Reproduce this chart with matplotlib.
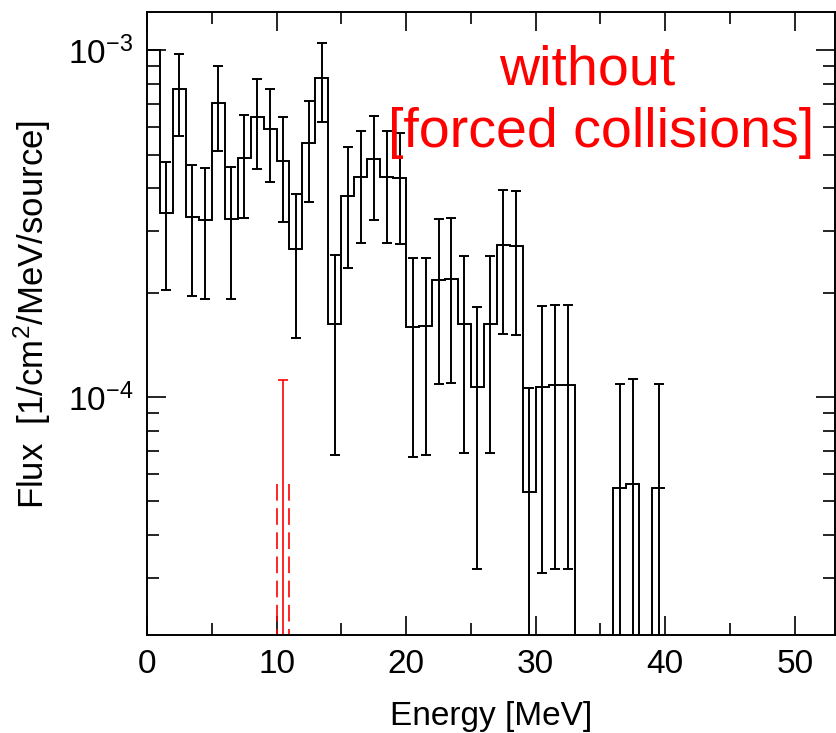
import matplotlib
matplotlib.use("Agg")
import matplotlib.pyplot as plt
import numpy as np

plt.rcParams["font.family"] = ["Liberation Sans", "DejaVu Sans"]
plt.rcParams["mathtext.fontset"] = "custom"
plt.rcParams["mathtext.rm"] = "Liberation Sans"
plt.rcParams["mathtext.it"] = "Liberation Sans:italic"

# 1 MeV energy bins, 0 - 40 MeV
edges = np.arange(0, 41)

# flux per bin without forced collisions [1/cm^2/MeV/source]
flux = [1.00e-3, 3.40e-4, 7.70e-4, 3.31e-4, 3.24e-4, 7.05e-4, 3.26e-4, 4.89e-4,
        6.40e-4, 5.93e-4, 4.80e-4, 2.67e-4, 5.40e-4, 8.32e-4, 1.62e-4, 3.80e-4,
        4.31e-4, 4.84e-4, 4.31e-4, 4.27e-4, 1.59e-4, 1.60e-4, 2.17e-4, 2.19e-4,
        1.62e-4, 1.07e-4, 1.62e-4, 2.74e-4, 2.72e-4, 5.31e-5, 1.07e-4, 1.08e-4,
        1.08e-4, 0.0, 0.0, 0.0, 5.46e-5, 5.63e-5, 0.0, 5.46e-5]
# absolute statistical error per bin
flux_err = [0.0, 1.37e-4, 2.04e-4, 1.35e-4, 1.33e-4, 1.94e-4, 1.35e-4, 1.61e-4,
            1.85e-4, 1.77e-4, 1.60e-4, 1.19e-4, 1.74e-4, 2.13e-4, 9.4e-5, 1.44e-4,
            1.53e-4, 1.61e-4, 1.53e-4, 1.51e-4, 9.2e-5, 9.2e-5, 1.08e-4, 1.09e-4,
            9.3e-5, 7.5e-5, 9.3e-5, 1.22e-4, 1.21e-4, 5.3e-5, 7.6e-5, 7.6e-5,
            7.6e-5, 0.0, 0.0, 0.0, 5.42e-5, 5.62e-5, 0.0, 5.42e-5]

# single red bin (10 - 11 MeV)
red_edges = [10.0, 11.0]
red_flux = 5.6e-5
red_err = 5.6e-5

ymin, ymax = 2.06e-5, 1.29e-3
xmin, xmax = 0, 53.1

fig = plt.figure(figsize=(8.36, 7.33), dpi=100)
ax = fig.add_axes([0.1758, 0.1337, 0.8230, 0.8503])

flux = np.asarray(flux)
flux_err = np.asarray(flux_err)
centers = 0.5 * (edges[:-1] + edges[1:])

ax.stairs(flux, edges, baseline=None, color="k", lw=1.4)
has_err = flux_err > 0
ax.errorbar(centers[has_err], flux[has_err], yerr=flux_err[has_err], fmt="none",
            ecolor="k", elinewidth=1.4, capsize=3.9, capthick=1.4)

# red histogram edges (dashed) and its error bar
for xe in red_edges:
    ax.plot([xe, xe], [red_flux, ymin], color="red", lw=1.2,
            linestyle=(0, (10, 4.5)))
ax.errorbar([np.mean(red_edges)], [red_flux], yerr=[red_err], fmt="none",
            ecolor="red", elinewidth=1.2, capsize=3.7, capthick=1.2)

ax.set_yscale("log")
ax.set_xlim(xmin, xmax)
ax.set_ylim(ymin, ymax)
ax.set_xticks([0, 10, 20, 30, 40, 50])
ax.set_xticks([5, 15, 25, 35, 45], minor=True)
ax.tick_params(which="both", direction="in", top=True, right=True,
               labelsize=24, width=1.2, pad=10)
ax.tick_params(which="major", length=13.5)
ax.tick_params(which="minor", length=8.8)
for s in ax.spines.values():
    s.set_linewidth(1.4)

ax.set_xlabel("Energy [MeV]", fontsize=24, labelpad=15)
ax.set_ylabel("Flux  [1/cm$^2$/MeV/source]", fontsize=25)
ax.yaxis.set_label_coords(-0.137, 0.515)

ax.text(0.640, 0.905, "without", color="red", fontsize=40,
        ha="center", va="center", transform=ax.transAxes)
ax.text(0.660, 0.805, "[forced collisions]", color="red", fontsize=40,
        ha="center", va="center", transform=ax.transAxes)

fig.savefig("out.png", dpi=100)
